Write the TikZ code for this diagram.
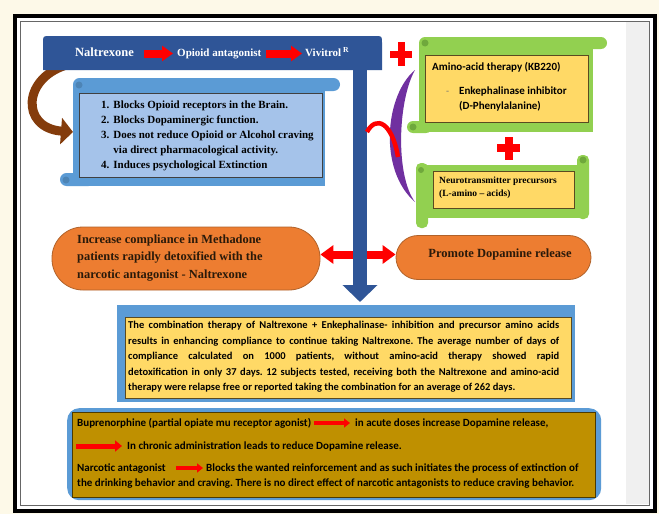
\documentclass[tikz,border=0pt]{standalone}
\usepackage{fontspec}
\setmainfont{Liberation Serif}
\newfontfamily\carlfont{Carlito}
\usetikzlibrary{arrows.meta,calc}
\definecolor{cream}{HTML}{FDF9E8}
\definecolor{hdrblue}{HTML}{2F5597}
\definecolor{midblue}{HTML}{5B9BD5}
\definecolor{lightblue}{HTML}{A5C3EA}
\definecolor{grn}{HTML}{92D050}
\definecolor{grndark}{HTML}{6FA83C}
\definecolor{ylw}{HTML}{FFD966}
\definecolor{ylwborder}{HTML}{5A4A20}
\definecolor{org}{HTML}{ED7D31}
\definecolor{orgborder}{HTML}{B0622A}
\definecolor{purp}{HTML}{7030A0}
\definecolor{brwn}{HTML}{843C0C}
\definecolor{gold}{HTML}{BF9000}
\definecolor{txtdark}{HTML}{2A1A0A}
\frenchspacing
\begin{document}
\begin{tikzpicture}[x=1pt,y=-1pt,
  hdrtxt/.style={text=white,inner sep=0pt,anchor=base west},
  hdrarrow/.style={red,line width=8pt,-{Triangle[length=11pt,width=15pt]}},
  smallarr/.style={red,line width=4pt,-{Triangle[length=6pt,width=9pt]}},
  bigarr/.style={red,line width=5pt,-{Triangle[length=7pt,width=11pt]}},
  ylwbox/.style={fill=ylw,draw=ylwborder,line width=0.8pt,inner sep=0pt,anchor=north west},
  orgbox/.style={fill=org,draw=orgborder,line width=0.8pt,inner sep=0pt},
  btxt/.style={font=\carlfont\bfseries\fontsize{11}{13}\selectfont,inner sep=0pt,anchor=base west},
  curl/.style={fill=grndark},
]
\useasboundingbox (0,0) rectangle (659,514);
% background and frame
\fill[cream] (0,0) rectangle (659,514);
\fill[white] (15,16) rectangle (655,511);
\fill[black!6] (626,22) rectangle (649,504);
\draw[black,line width=4pt] (15,16) rectangle (655,511);
\draw[black!60,line width=1pt] (20.5,21.5) rectangle (649.5,505);

% lower boxes
\node[fill=midblue,inner sep=0pt,anchor=north west,minimum width=458pt,minimum height=97pt] (combo) at (117,305) {};
\node[ylwbox,minimum width=446pt,minimum height=81pt] (comboin) at (125,317) {};
\node[anchor=base west,inner sep=0pt,text width=431pt,align=justify,font=\carlfont\bfseries\fontsize{10.5}{15.5}\selectfont] (combotxt) at (128,328.5) {The combination therapy of Naltrexone + Enkephalinase- inhibition and precursor amino acids\linebreak results in enhancing compliance to continue taking Naltrexone. The average number of days of\linebreak compliance calculated on 1000 patients, without amino-acid therapy showed rapid\linebreak detoxification in only 37 days. 12 subjects tested, receiving both the Naltrexone and amino-acid\linebreak therapy were relapse free or reported taking the combination for an average of 262 days.};

\node[fill=midblue,rounded corners=12pt,inner sep=0pt,anchor=north west,minimum width=534pt,minimum height=92pt] (bottom) at (67,408) {};
\node[fill=gold,draw=black!60!gold,line width=0.8pt,anchor=north west,inner sep=0pt,minimum width=523pt,minimum height=85pt] (bottomin) at (72,412) {};
\node[btxt] (b1) at (77,426.5) {Buprenorphine (partial opiate mu receptor agonist)};
\node[btxt] (b2) at (355,426.5) {in acute doses increase Dopamine release,};
\coordinate (a2s) at (76,446);
\node[btxt] (b3) at (127,449.5) {In chronic administration leads to reduce Dopamine release.};
\node[btxt] (b4) at (77,471.5) {Narcotic antagonist};
\node[btxt] (b5) at (206,471.5) {Blocks the wanted reinforcement and as such initiates the process of extinction of};
\node[btxt] (b6) at (77,486.5) {the drinking behavior and craving. There is no direct effect of narcotic antagonists to reduce craving behavior.};
\draw[smallarr] ($(b1.base east)+(3,-3.5)$) -- ($(b2.base west)+(-5,-3.5)$);
\draw[bigarr] (a2s) -- ($(b3.base west)+(-5,-3.5)$);
\draw[smallarr] ($(b4.base east)+(10,-3.5)$) -- ($(b5.base west)+(-3,-3.5)$);

% orange boxes
\node[orgbox,rounded corners=31pt,minimum width=268pt,minimum height=63pt] (incr) at (186,258.5) {};
\node[anchor=base west,inner sep=0pt,align=left,text=txtdark,font=\bfseries\fontsize{12.4}{17.5}\selectfont] (incrtxt) at (77,278) {Increase compliance in Methadone\\patients rapidly detoxified with the\\narcotic antagonist - Naltrexone};
\node[orgbox,rounded corners=22pt,minimum width=195pt,minimum height=44pt] (prom) at (493.5,257.5) {};
\node[anchor=base,inner sep=0pt,text=txtdark,font=\bfseries\fontsize{12.5}{15}\selectfont] (promtxt) at (500,257.5) {Promote Dopamine release};
\draw[red,line width=8pt,{Triangle[length=13pt,width=18pt]}-{Triangle[length=13pt,width=18pt]}] ($(incr.east)+(0,-4)$) -- ($(prom.west|-incr.east)+(0,-4)$);

% brown arrow
\coordinate (brA) at (70,64);
\coordinate (scrollW) at (73,132);
\draw[brwn,line width=9pt,-{Triangle[length=12pt,width=26pt]}] (brA) .. controls (22,76) and (20,128) .. (scrollW);

% header
\fill[hdrblue] (43,70) -- (43,43) .. controls (43,36) .. (50,36) -- (375,36) .. controls (382,36) .. (382,43) -- (382,70) -- cycle;
\node[hdrtxt,font=\bfseries\fontsize{12.5}{15}\selectfont] (nal) at (75,56.5) {Naltrexone};
\node[hdrtxt,font=\bfseries\fontsize{11}{13}\selectfont] (opi) at (177,56) {Opioid antagonist};
\node[hdrtxt,font=\bfseries\fontsize{11}{13}\selectfont] (viv) at (305,56) {Vivitrol\,\textsuperscript{R}};
\coordinate (hl) at (0,53.5);
\draw[hdrarrow] ($(nal.east|-hl)+(10,0)$) -- ($(opi.west|-hl)+(-4,0)$);
\draw[hdrarrow] ($(opi.east|-hl)+(5,0)$) -- ($(viv.west|-hl)+(-3,0)$);

% vertical stem arrow
\coordinate (stemtop) at (360,66);
\draw[hdrblue,line width=14pt,-{Triangle[length=17pt,width=34pt]}] (stemtop) -- ($(stemtop|-combo.north)+(0,-3)$);

% list scroll
\fill[midblue] (73,84) rectangle (325,186);
\fill[midblue,rounded corners=6.5pt] (73,78) rectangle (340,91);
\fill[midblue,rounded corners=6.5pt] (60,173) rectangle (95,186);
\fill[midblue!85!black] (79,85) circle (3.5);
\fill[midblue!85!black] (66,180) circle (3.5);
\node[fill=lightblue,draw=black!75,line width=0.8pt,inner sep=0pt,anchor=north west,minimum width=243pt,minimum height=84pt] (listbox) at (79,93) {};
\node[anchor=base west,inner sep=0pt,font=\bfseries\fontsize{11}{15}\selectfont] (listtxt) at (101,108) {\begin{tabular}[t]{@{}r@{\hspace{4pt}}l@{}}1.&Blocks Opioid receptors in the Brain.\\ 2.&Blocks Dopaminergic function.\\ 3.&Does not reduce Opioid or Alcohol craving\\ &via direct pharmacological activity.\\ 4.&Induces psychological Extinction\end{tabular}};

% purple crescent and red arc
\fill[purp] (415,70) .. controls (385,95) and (378,170) .. (415,202) .. controls (395,175) and (398,100) .. (415,70) -- cycle;
\draw[red,line width=4.5pt] (367,132) .. controls (376,115) and (392,122) .. (398,157);

% plus signs
\fill[red] (390,50.5) rectangle (412,57.5);
\fill[red] (397.5,42) rectangle (404.5,66);
\fill[red] (497,144) rectangle (520,152);
\fill[red] (504.5,137) rectangle (512.5,160);

% green scroll 1
\fill[grn] (419,43) rectangle (593,132);
\fill[grn,rounded corners=6pt] (419,37) rectangle (607,49);
\fill[grn,rounded corners=6pt] (407,121) rectangle (432,133);
\fill[curl] (425,43) circle (3.5);
\fill[curl] (413,127) circle (3.5);
\node[ylwbox,minimum width=163pt,minimum height=67pt] (amino) at (425,55) {};
\node[anchor=base west,inner sep=0pt,font=\carlfont\bfseries\fontsize{11}{13}\selectfont] (amtxt) at (432,70.5) {Amino-acid therapy (KB220)};
\node[anchor=base west,inner sep=0pt,text=black!55,font=\carlfont\fontsize{10}{12}\selectfont] (dash) at (446,94) {-};
\node[anchor=base west,inner sep=0pt,align=left,font=\carlfont\bfseries\fontsize{11}{15}\selectfont] (enktxt) at (459,109) {Enkephalinase inhibitor\\(D-Phenylalanine)};

% green scroll 2
\fill[grn] (417,165) rectangle (587,218);
\fill[grn,rounded corners=5pt] (416,163) rectangle (428,228);
\fill[grn,rounded corners=5pt] (577,155) rectangle (589,219);
\fill[curl] (421,170) circle (3);
\fill[curl] (583,160) circle (3.5);
\node[ylwbox,minimum width=141pt,minimum height=37pt] (neuro) at (433,171) {};
\node[anchor=base west,inner sep=0pt,align=left,font=\bfseries\fontsize{9.5}{13}\selectfont] (neurotxt) at (439,196.5) {Neurotransmitter precursors\\(L-amino – acids)};
\end{tikzpicture}
\end{document}
